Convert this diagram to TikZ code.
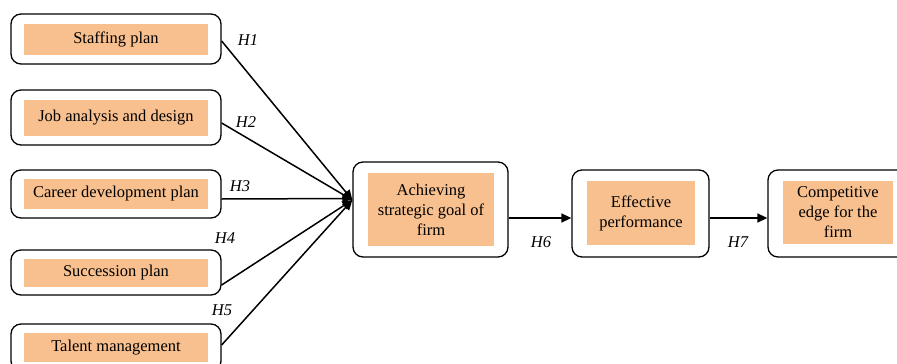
\documentclass[tikz,border=0pt]{standalone}
\usepackage{fontspec}
\setmainfont{Liberation Serif}
\usetikzlibrary{arrows.meta,calc}
\definecolor{peach}{HTML}{F8C08E}
\tikzset{
  outerbox/.style={draw=black, line width=1.3pt, rounded corners=10pt, fill=white, inner sep=0pt},
  innerbox/.style={fill=peach, draw=none, inner sep=0pt, align=center, font=\fontsize{16.5}{20}\selectfont},
  conn/.style={line width=1.5pt, -{Triangle[length=10pt,width=9pt]}},
  hlab/.style={font=\fontsize{16.5}{19}\selectfont\itshape, inner sep=0pt}
}
\begin{document}
\begin{tikzpicture}[x=1pt,y=-1pt]
\useasboundingbox (0,0) rectangle (897,364);
% left outer boxes
\node[outerbox, minimum width=210pt, minimum height=50pt] (o1) at (116,39) {};
\node[outerbox, minimum width=210pt, minimum height=55pt] (o2) at (116,117.5) {};
\node[outerbox, minimum width=210pt, minimum height=48pt] (o3) at (116,194) {};
\node[outerbox, minimum width=210pt, minimum height=45pt] (o4) at (116,272.5) {};
\node[outerbox, minimum width=210pt, minimum height=47pt] (o5) at (116,347.5) {};
% inner fills
\node[innerbox, minimum width=184pt, minimum height=31pt] (i1) at (116,39.5) {Staffing plan};
\node[innerbox, minimum width=184pt, minimum height=36pt] (i2) at (116,118) {Job analysis and design};
\node[innerbox, minimum width=184pt, minimum height=30pt] (i3) at (116,194) {Career development plan};
\node[innerbox, minimum width=184pt, minimum height=28pt] (i4) at (116,273) {Succession plan};
\node[innerbox, minimum width=184pt, minimum height=29pt] (i5) at (116,347.5) {Talent management};
% center / right boxes
\node[outerbox, minimum width=155pt, minimum height=95pt] (c) at (430.5,209.5) {};
\node[innerbox, minimum width=126pt, minimum height=73pt] (ci) at (431,209.5) {Achieving\\strategic goal of\\firm};
\node[outerbox, minimum width=137pt, minimum height=87pt] (e) at (640.5,213.5) {};
\node[innerbox, minimum width=108pt, minimum height=64pt] (ei) at (641,213) {Effective\\performance};
\node[outerbox, minimum width=140pt, minimum height=87pt] (f) at (838,213.5) {};
\node[innerbox, minimum width=110pt, minimum height=63pt] (fi) at (838,212.5) {Competitive\\edge for the\\firm};
% connectors
\coordinate (conv) at ([yshift=9.5pt]c.west);
\draw[conn] ([yshift=-2pt]o1.east) -- (conv);
\draw[conn] ([yshift=-5.5pt]o2.east) -- (conv);
\draw[conn] ([yshift=-5pt]o3.east) -- ([yshift=-4.5pt]c.west |- o3.east);
\draw[conn] ([yshift=-12.5pt]o4.east) -- (conv);
\draw[conn] ([yshift=2.5pt]o5.east) -- (conv);
\draw[conn] ([yshift=-8.5pt]c.east) -- ([yshift=-4.5pt]e.west);
\draw[conn] ([yshift=-4.5pt]e.east) -- ([yshift=-4.5pt]f.west);
% labels
\node[hlab] (h1) at (248,40) {H1};
\node[hlab] (h2) at (246,122) {H2};
\node[hlab] (h3) at (240,186) {H3};
\node[hlab] (h4) at (225,238) {H4};
\node[hlab] (h5) at (222,310) {H5};
\node[hlab] (h6) at (541,242) {H6};
\node[hlab] (h7) at (738,242) {H7};
\end{tikzpicture}
\end{document}
